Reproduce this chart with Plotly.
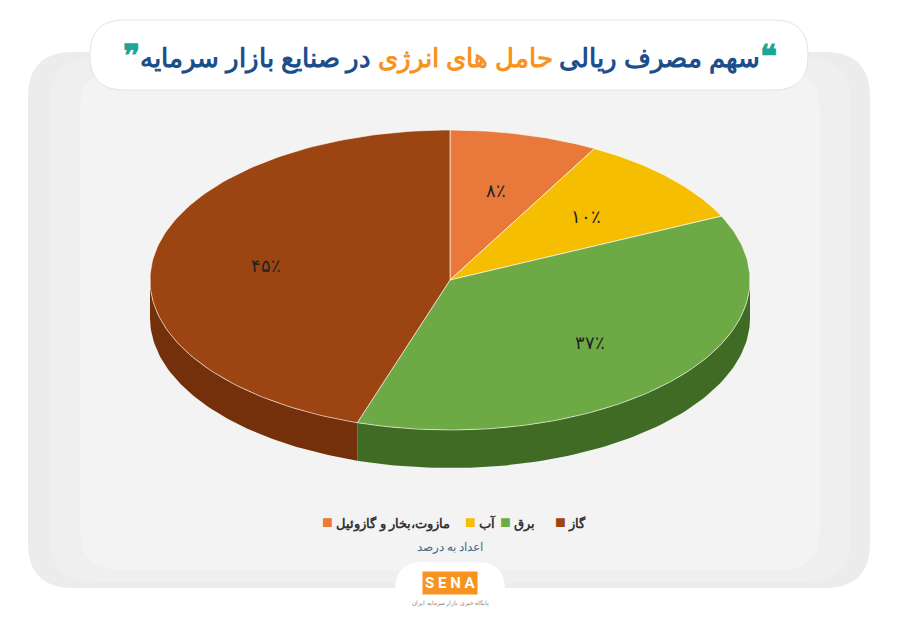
import numpy as np
import plotly.graph_objects as go

labels = ['مازوت،بخار و گازوئیل', 'آب', 'برق', 'گاز']
values = [8, 10, 37, 45]
value_text = ['۸٪', '۱۰٪', '۳۷٪', '۴۵٪']
colors = ['#E8793A', '#F5BE00', '#6DAA45', '#9C4512']
side_colors = ['#B65A20', '#C29200', '#3F6B24', '#74300A']

cx, cy, rx, ry, depth = 450, 280, 300, 150, 38

def pt(theta, dy=0):
    return cx + rx * np.sin(theta), cy - ry * np.cos(theta) + dy

def rrect(x0, y0, x1, y1, r):
    return (f"M{x0+r},{y0} L{x1-r},{y0} Q{x1},{y0} {x1},{y0+r} L{x1},{y1-r} "
            f"Q{x1},{y1} {x1-r},{y1} L{x0+r},{y1} Q{x0},{y1} {x0},{y1-r} "
            f"L{x0},{y0+r} Q{x0},{y0} {x0+r},{y0} Z")

fig = go.Figure()

shapes = [
    dict(type='path', xref='x', yref='y', path=rrect(28, 52, 870, 588, 45),
         fillcolor='#ECECEC', line=dict(width=0), layer='below'),
    dict(type='path', xref='x', yref='y', path=rrect(50, 58, 850, 582, 42),
         fillcolor='#EFEFEF', line=dict(width=0), layer='below'),
    dict(type='path', xref='x', yref='y', path=rrect(80, 70, 820, 570, 40),
         fillcolor='#F3F3F3', line=dict(width=0), layer='below'),
    dict(type='path', xref='x', yref='y', path=rrect(90, 20, 808, 90, 34),
         fillcolor='white', line=dict(color='#E4E4E4', width=1), layer='below'),
    dict(type='path', xref='x', yref='y', path=rrect(395, 562, 505, 650, 28),
         fillcolor='white', line=dict(width=0), layer='below'),
]

fracs = np.cumsum([0] + values) / sum(values) * 2 * np.pi

# side walls (front half only)
for i in range(len(values)):
    a, b = max(fracs[i], np.pi / 2), min(fracs[i + 1], 3 * np.pi / 2)
    if b <= a:
        continue
    t = np.linspace(a, b, 80)
    x1, y1 = pt(t)
    x2, y2 = pt(t[::-1], depth)
    fig.add_trace(go.Scatter(x=np.r_[x1, x2, x1[0]], y=np.r_[y1, y2, y1[0]],
                             fill='toself', fillcolor=side_colors[i], mode='lines',
                             line=dict(width=0), hoverinfo='skip', showlegend=False))

# top faces
for i in range(len(values)):
    t = np.linspace(fracs[i], fracs[i + 1], 120)
    x, y = pt(t)
    fig.add_trace(go.Scatter(x=np.r_[cx, x, cx], y=np.r_[cy, y, cy],
                             fill='toself', fillcolor=colors[i], mode='lines',
                             line=dict(color='white', width=0.6), hoverinfo='skip',
                             showlegend=False))
    mid = (fracs[i] + fracs[i + 1]) / 2
    lx, ly = cx + 0.62 * rx * np.sin(mid), cy - 0.62 * ry * np.cos(mid)
    fig.add_annotation(x=lx, y=ly, text=value_text[i], showarrow=False,
                       font=dict(size=18, color='#222'))

# title
fig.add_annotation(x=450, y=54, xref='x', yref='y', showarrow=False,
                   text="<b><span style='color:#1ea597;font-size:32px'>❞</span>سهم مصرف ریالی "
                        "<span style='color:#F7931E'>حامل های انرژی</span> در صنایع بازار سرمایه"
                        "<span style='color:#1ea597;font-size:32px'>❝</span></b>",
                   font=dict(size=26, color='#1B4F8C', family='Noto Sans'))

# legend
leg_x = [553, 498, 463, 320]
order = [3, 2, 1, 0]
for xpos, i in zip(leg_x, order):
    fig.add_annotation(x=xpos, y=521, xanchor='left', showarrow=False,
                       text=f"<span style='color:{colors[i]};font-size:18px'>■</span> <b>{labels[i]}</b>",
                       font=dict(size=13, color='#333', family='Noto Sans'))
fig.add_annotation(x=450, y=546, showarrow=False, text='اعداد به درصد',
                   font=dict(size=12, color='#4a6a8a', family='Noto Sans'))

# logo
fig.add_annotation(x=450, y=583, showarrow=False, text='<b>S E N A</b>',
                   bgcolor='#F7931E', borderpad=2,
                   font=dict(size=15, color='white', family='Roboto'))
fig.add_annotation(x=450, y=603, showarrow=False, text='پایگاه خبری بازار سرمایه ایران',
                   font=dict(size=6, color='#888'))

# the page body adds an 8px offset; shift ranges to compensate
fig.update_layout(
    width=900, height=623, margin=dict(l=0, r=0, t=0, b=0),
    paper_bgcolor='white', plot_bgcolor='rgba(0,0,0,0)', shapes=shapes,
    xaxis=dict(range=[8, 908], visible=False, fixedrange=True),
    yaxis=dict(range=[631, 8], visible=False, fixedrange=True),
    font=dict(family='Noto Sans'),
)
fig.write_html("out.html")
